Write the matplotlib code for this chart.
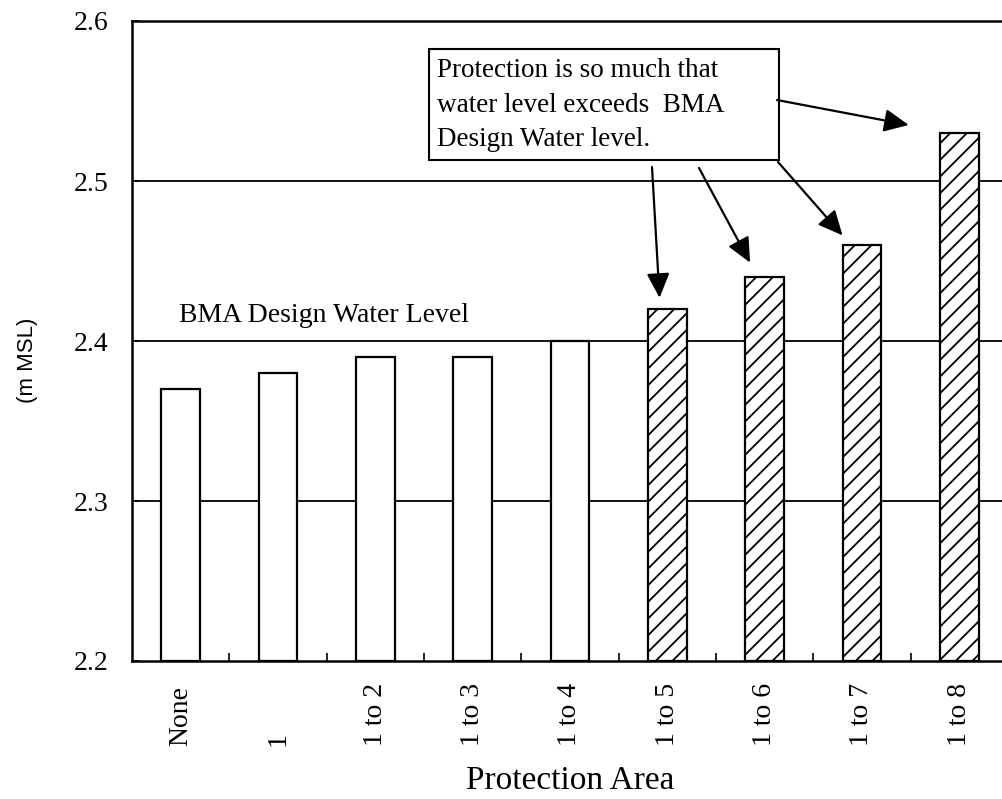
import matplotlib
matplotlib.use("Agg")
import matplotlib.pyplot as plt
from matplotlib.patches import Rectangle

# data
categories = ["None", "1", "1 to 2", "1 to 3", "1 to 4", "1 to 5", "1 to 6", "1 to 7", "1 to 8"]
water_level = [2.37, 2.38, 2.39, 2.39, 2.40, 2.42, 2.44, 2.46, 2.53]
exceeds_design = [False, False, False, False, False, True, True, True, True]
y_ticks = [2.2, 2.3, 2.4, 2.5, 2.6]
design_level = 2.4

note_text = "Protection is so much that\nwater level exceeds  BMA\nDesign Water level."
# arrow tips (data coords) pointing at the hatched bars
arrow_tips = [(4.92, 2.427), (5.85, 2.449), (6.80, 2.466), (7.48, 2.535)]

SERIF = "Liberation Serif"
SANS = "Liberation Sans"

plt.rcParams["font.family"] = SERIF
plt.rcParams["hatch.linewidth"] = 1.3

W, H = 1002, 799
fig = plt.figure(figsize=(W / 100, H / 100), dpi=100)

# axes box in pixels: left 132, right ~1008 (runs past the edge), top 21, bottom 661
ax_l, ax_r, ax_t, ax_b = 132, 1008, 21, 661
ax = fig.add_axes([ax_l / W, (H - ax_b) / H, (ax_r - ax_l) / W, (ax_b - ax_t) / H])

x = list(range(len(categories)))
for xi, val, hatched in zip(x, water_level, exceeds_design):
    ax.bar(xi, val - y_ticks[0], bottom=y_ticks[0], width=0.4,
           facecolor="white", edgecolor="black", linewidth=1.6,
           hatch="//" if hatched else None, zorder=3)

ax.set_xlim(-0.5, len(categories) - 0.5)
ax.set_ylim(y_ticks[0], y_ticks[-1])

# horizontal grid lines
for yv in y_ticks[1:-1]:
    ax.axhline(yv, color="black", linewidth=1.3, zorder=1)

ax.set_yticks(y_ticks)
ax.set_yticklabels([f"{v:.1f}" for v in y_ticks], fontsize=20, family=SERIF)
ax.tick_params(axis="y", direction="in", length=5, width=1.2, pad=17)

ax.set_xticks(x)
ax.set_xticklabels(categories, rotation=90, fontsize=20, family=SERIF, va="bottom", ha="center")
ax.tick_params(axis="x", which="major", length=0, pad=61)
ax.set_xticks([i + 0.5 for i in x], minor=True)
ax.tick_params(axis="x", which="minor", direction="in", length=5.5, width=1.2)

for side in ["left", "top", "bottom", "right"]:
    ax.spines[side].set_linewidth(1.8)

ax.set_xlabel("Protection Area", fontsize=24, family=SERIF, va="center")
ax.xaxis.set_label_coords(0.5, (ax_b - 781) / (ax_b - ax_t))
ax.set_ylabel("(m MSL)", fontsize=16, family=SANS, va="center")
ax.yaxis.set_label_coords((27 - ax_l) / (ax_r - ax_l), (ax_b - 360) / (ax_b - ax_t))


def to_axes(px, py):
    return (px - ax_l) / (ax_r - ax_l), (ax_b - py) / (ax_b - ax_t)


# design level label
ax.text(*to_axes(179, 316), "BMA Design Water Level", transform=ax.transAxes,
        fontsize=20, family=SERIF, ha="left", va="center")

# annotation box
bx0, by0 = to_axes(429, 160)
bx1, by1 = to_axes(779, 49)
ax.add_patch(Rectangle((bx0, by0), bx1 - bx0, by1 - by0, transform=ax.transAxes,
                       facecolor="white", edgecolor="black", linewidth=1.5, zorder=5))
ax.text(*to_axes(437, 105), note_text, transform=ax.transAxes, fontsize=19.5,
        family=SERIF, ha="left", va="center", linespacing=1.5, zorder=6)

arrow_tails_px = [(652, 167), (699, 168), (778, 162), (777, 100)]
for tip, tail in zip(arrow_tips, arrow_tails_px):
    ax.annotate("", xy=tip, xycoords="data", xytext=to_axes(*tail), textcoords="axes fraction",
                arrowprops=dict(arrowstyle="-|>,head_length=0.75,head_width=0.35",
                                mutation_scale=20, color="black", linewidth=1.6,
                                shrinkA=0, shrinkB=0), zorder=7)

fig.savefig("out.png", dpi=100)
